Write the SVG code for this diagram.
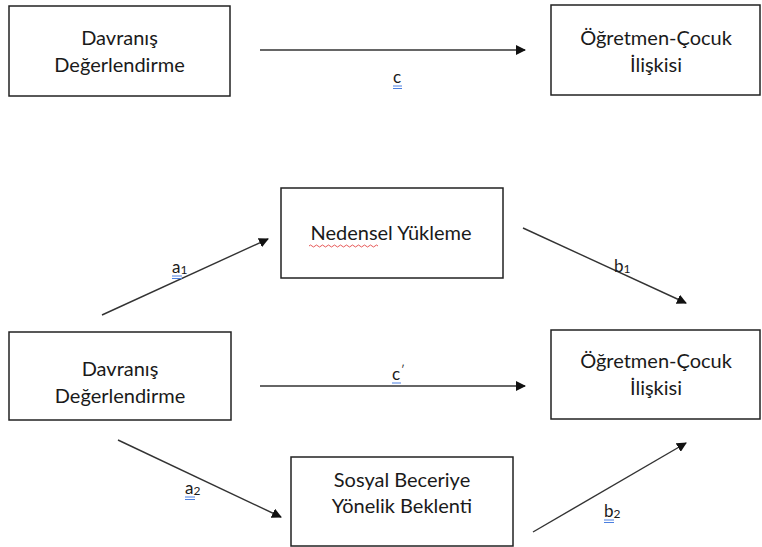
<svg xmlns="http://www.w3.org/2000/svg" width="762" height="547" viewBox="0 0 762 547">
<defs>
<marker id="ah" viewBox="0 0 10 10" refX="9" refY="5" markerWidth="10" markerHeight="10" markerUnits="userSpaceOnUse" orient="auto">
<path d="M0,0 L10,5 L0,10 z" fill="#111"/>
</marker>
<style>
.box{fill:#fff;stroke:#222;stroke-width:1.5}
.t{font-family:Lato,"Open Sans","Liberation Sans",sans-serif;font-size:20px;fill:#1a1a1a;text-anchor:middle}
.l{font-family:Lato,"Open Sans","Liberation Sans",sans-serif;font-size:17px;fill:#1a1a1a}
.sub{font-size:12px}
.conn{stroke:#333;stroke-width:1.4;fill:none;marker-end:url(#ah)}
.ul{stroke:#4a7fe0;stroke-width:1;fill:none}
.wv{stroke:#e03030;stroke-width:0.8;fill:none}
</style>
</defs>
<rect width="762" height="547" fill="#fff"/>
<g id="connectors">
<line class="conn" x1="260" y1="50" x2="525" y2="50"/>
<line class="conn" x1="102" y1="315" x2="268" y2="239"/>
<line class="conn" x1="523" y1="228" x2="686" y2="303"/>
<line class="conn" x1="260" y1="386" x2="525" y2="386"/>
<line class="conn" x1="118" y1="440" x2="281" y2="517"/>
<line class="conn" x1="533" y1="532" x2="686" y2="443"/>
</g>
<g id="labels">
<text class="l" x="393" y="83">c</text>
<path class="ul" d="M393,86 H402 M393,88.5 H402"/>
<text class="l" x="392" y="380">c</text>
<text class="l" x="401" y="374" style="font-size:11px">′</text>
<path class="ul" d="M392,383 H401"/>
<text class="l" x="172" y="273">a<tspan class="sub" dy="1">1</tspan></text>
<path class="ul" d="M172,276 H182 M172,278.5 H182"/>
<text class="l" x="614" y="272">b<tspan class="sub" dy="1">1</tspan></text>
<text class="l" x="185" y="494">a<tspan class="sub" dy="1">2</tspan></text>
<path class="ul" d="M185,497 H195 M185,499.5 H195"/>
<text class="l" x="604" y="517">b<tspan class="sub" dy="1">2</tspan></text>
<path class="ul" d="M604,520 H614 M604,522.5 H614"/>
</g>
<g id="node-davranis-top">
<rect class="box" x="9" y="6" width="221" height="90"/>
<text class="t" x="119.5" y="45">Davranış</text>
<text class="t" x="119.5" y="72">Değerlendirme</text>
</g>
<g id="node-ogretmen-top">
<rect class="box" x="551" y="5" width="209" height="90"/>
<text class="t" x="656" y="45">Öğretmen-Çocuk</text>
<text class="t" x="656" y="72">İlişkisi</text>
</g>
<g id="node-nedensel">
<rect class="box" x="281" y="188" width="222" height="90"/>
<text class="t" x="391" y="240">Nedensel Yükleme</text>
<path class="wv" d="M309,246 q1.5,-2 3,0 t3,0 t3,0 t3,0 t3,0 t3,0 t3,0 t3,0 t3,0 t3,0 t3,0 t3,0 t3,0 t3,0 t3,0 t3,0 t3,0 t3,0 t3,0 t3,0 t3,0 t3,0 t3,0"/>
</g>
<g id="node-davranis-bottom">
<rect class="box" x="9" y="332" width="222" height="88"/>
<text class="t" x="120" y="376">Davranış</text>
<text class="t" x="120" y="403">Değerlendirme</text>
</g>
<g id="node-ogretmen-bottom">
<rect class="box" x="551" y="330" width="209" height="89"/>
<text class="t" x="656" y="368">Öğretmen-Çocuk</text>
<text class="t" x="656" y="395">İlişkisi</text>
</g>
<g id="node-sosyal">
<rect class="box" x="291" y="457" width="222" height="89"/>
<text class="t" x="402" y="487">Sosyal Beceriye</text>
<text class="t" x="402" y="513">Yönelik Beklenti</text>
</g>
</svg>
